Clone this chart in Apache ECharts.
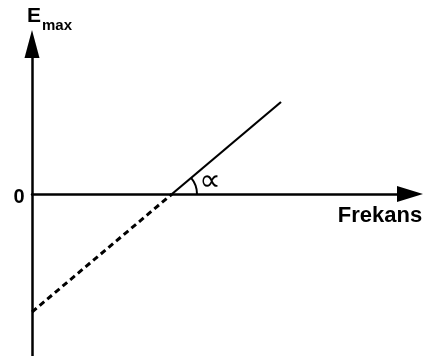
<!DOCTYPE html>
<html>
<head>
<meta charset="utf-8">
<script src="https://cdn.jsdelivr.net/npm/echarts@6/dist/echarts.min.js"></script>
<style>
html, body { margin: 0; padding: 0; background: #fff; }
#main { width: 445px; height: 356px; }
</style>
</head>
<body>
<div id="main"></div>
<script>
// values (arbitrary units, origin where the axes cross)
var frekans = [0, 140, 249];
var emax = [-118, 0, 92];
var xRange = [0, 378];
var yRange = [-162, 150];

var chart = echarts.init(document.getElementById('main'));

var solidPart = [[frekans[1], emax[1]], [frekans[2], emax[2]]];
var dashedPart = [[frekans[0], emax[0]], [frekans[1], emax[1]]];

var axisStyle = { color: '#000', width: 2.5 };

var option = {
    animation: false,
    grid: { left: 32, right: 35, top: 44, bottom: 0 },
    xAxis: {
        type: 'value',
        min: xRange[0],
        max: xRange[1],
        axisLine: { onZero: true, symbol: ['none', 'triangle'], symbolSize: [16, 26], lineStyle: axisStyle },
        axisTick: { show: false },
        axisLabel: { show: false },
        splitLine: { show: false }
    },
    yAxis: {
        type: 'value',
        min: yRange[0],
        max: yRange[1],
        axisLine: { show: true, symbol: ['none', 'triangle'], symbolSize: [15, 28], lineStyle: axisStyle },
        axisTick: { show: false },
        axisLabel: { show: false },
        splitLine: { show: false }
    },
    series: [
        {
            type: 'line',
            data: solidPart,
            showSymbol: false,
            lineStyle: { color: '#000', width: 2.2 }
        },
        {
            type: 'line',
            data: dashedPart,
            showSymbol: false,
            lineStyle: { color: '#000', width: 3, type: [6, 4] }
        }
    ]
};
chart.setOption(option);

// angle arc at the crossing point
var c = chart.convertToPixel({ seriesIndex: 0 }, [frekans[1], emax[1]]);
var e = chart.convertToPixel({ seriesIndex: 0 }, [frekans[2], emax[2]]);
var ang = Math.atan2(c[1] - e[1], e[0] - c[0]);

chart.setOption({
    graphic: [
        {
            type: 'arc',
            shape: { cx: c[0], cy: c[1], r: 25, startAngle: -ang, endAngle: 0 },
            style: { stroke: '#000', lineWidth: 2, fill: null }
        },
        {
            type: 'text', x: c[0] + 38, y: c[1] - 12,
            style: { text: '\u221d', font: '30px "DejaVu Sans"', fill: '#000', textAlign: 'center', textVerticalAlign: 'middle' }
        },
        {
            type: 'text', x: 19, y: 197,
            style: { text: '0', font: 'bold 20px "Liberation Sans"', fill: '#000', textAlign: 'center', textVerticalAlign: 'middle' }
        },
        {
            type: 'text', x: 380, y: 216,
            style: { text: 'Frekans', font: 'bold 22px "Liberation Sans"', fill: '#000', textAlign: 'center', textVerticalAlign: 'middle' }
        },
        {
            type: 'text', x: 27, y: 16,
            style: { text: 'E', font: 'bold 21px "Liberation Sans"', fill: '#000', textAlign: 'left', textVerticalAlign: 'middle' }
        },
        {
            type: 'text', x: 42, y: 26,
            style: { text: 'max', font: 'bold 15px "Liberation Sans"', fill: '#000', textAlign: 'left', textVerticalAlign: 'middle' }
        }
    ]
});
</script>
</body>
</html>
